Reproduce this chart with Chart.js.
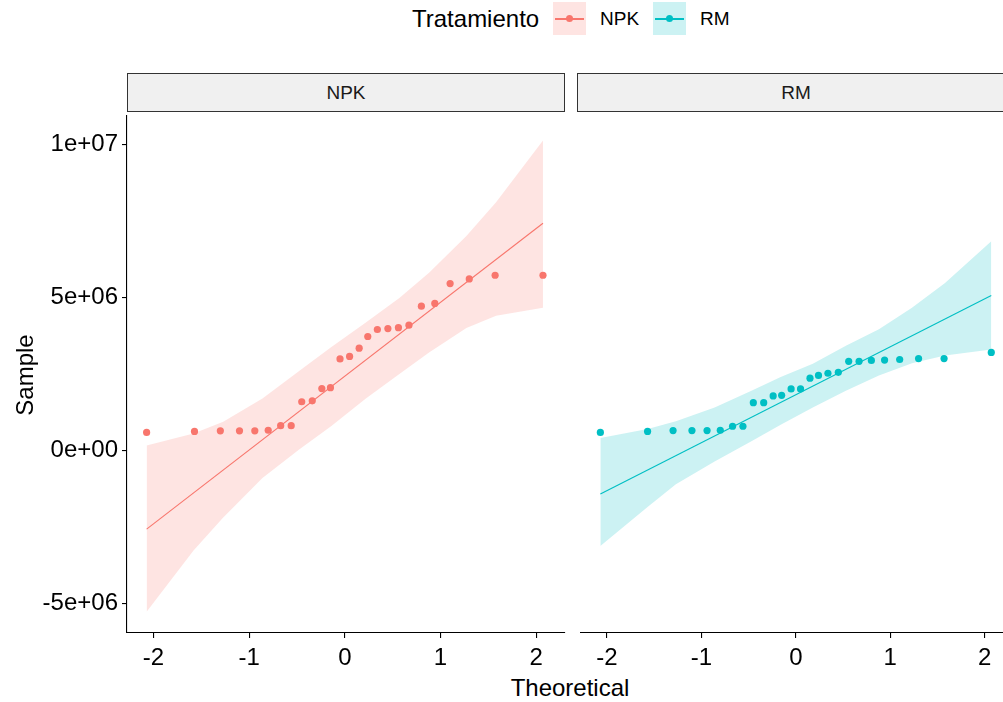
<!DOCTYPE html>
<html>
<head>
<meta charset="utf-8">
<script src="https://cdn.jsdelivr.net/npm/chart.js@4.4.0/dist/chart.umd.min.js"></script>
<style>
  html, body { margin: 0; padding: 0; background: #fff; overflow: hidden; width: 1003px; height: 702px; }
  body { position: relative; font-family: "Liberation Sans", Arial, sans-serif; color: #000; }
  canvas { position: absolute; }
  .strip { position: absolute; top: 73px; height: 37px; width: 436px; background: #F0F0F0; border: 1px solid #333;
           font-size: 19px; color: #1a1a1a; text-align: center; line-height: 37px; }
  .lab { position: absolute; white-space: nowrap; }
  .key { position: absolute; top: 2px; width: 33px; height: 33px; }
  .key .ln { position: absolute; left: 2px; top: 16px; width: 29px; height: 1.5px; }
  .key .pt { position: absolute; left: 13px; top: 13px; width: 7px; height: 7px; border-radius: 50%; }
</style>
</head>
<body>

<div class="lab" style="left:412px; top:6px; font-size:24px; line-height:26px;">Tratamiento</div>
<div class="key" style="left:553px; background:rgba(248,118,109,0.2);"><div class="ln" style="background:#F8766D"></div><div class="pt" style="background:#F8766D"></div></div>
<div class="lab" style="left:600px; top:8px; font-size:19px; line-height:22px;">NPK</div>
<div class="key" style="left:653px; background:rgba(0,191,196,0.2);"><div class="ln" style="background:#00BFC4"></div><div class="pt" style="background:#00BFC4"></div></div>
<div class="lab" style="left:700px; top:8px; font-size:19px; line-height:22px;">RM</div>

<div class="strip" style="left:127px;">NPK</div>
<div class="strip" style="left:577px;">RM</div>

<canvas id="npk" width="570" height="561" style="left:0px; top:112px;"></canvas>
<canvas id="rm" width="440" height="561" style="left:577px; top:112px;"></canvas>

<div class="lab" style="left:470px; width:200px; text-align:center; top:676px; font-size:24px; line-height:24px;">Theoretical</div>
<div class="lab" style="left:-25px; width:100px; text-align:center; top:363px; font-size:24px; line-height:24px; transform:rotate(-90deg);">Sample</div>

<script>
// theoretical quantiles (same for both groups, 26 points each)
const theoretical = [-2.07, -1.57, -1.30, -1.10, -0.94, -0.80, -0.67, -0.56, -0.45, -0.34, -0.24, -0.15, -0.05,
                     0.05, 0.15, 0.24, 0.34, 0.45, 0.56, 0.67, 0.80, 0.94, 1.10, 1.30, 1.57, 2.07];

// sample values, in millions
const npkSample = [0.59, 0.62, 0.64, 0.64, 0.64, 0.66, 0.81, 0.81, 1.59, 1.62, 2.02, 2.05, 2.99,
                   3.07, 3.34, 3.72, 3.95, 3.98, 4.01, 4.09, 4.71, 4.80, 5.45, 5.60, 5.72, 5.72];
const rmSample  = [0.59, 0.62, 0.65, 0.65, 0.65, 0.66, 0.79, 0.79, 1.56, 1.56, 1.78, 1.80, 2.01,
                   2.01, 2.36, 2.45, 2.52, 2.55, 2.91, 2.91, 2.94, 2.95, 2.97, 3.00, 3.00, 3.20];

// reference lines (ends at the outer quantiles)
const refLineX = [-2.07, 2.07];
const npkRefLine = [-2.57, 7.42];
const rmRefLine = [-1.42, 5.06];

// confidence bands
const npkBandX = [-2.07, -1.58, -1.27, -0.86, -0.47, -0.14, 0.22, 0.57, 0.88, 1.27, 1.58, 2.07];
const npkBandLo = [-5.27, -3.27, -2.19, -0.90, 0.05, 0.80, 1.70, 2.50, 3.20, 4.00, 4.40, 4.66];
const npkBandHi = [0.16, 0.55, 0.94, 1.70, 2.61, 3.38, 4.18, 4.98, 5.80, 7.00, 8.10, 10.12];
const rmBandX = [-2.07, -1.57, -1.27, -0.86, -0.47, -0.16, 0.18, 0.53, 0.88, 1.23, 1.58, 2.07];
const rmBandLo = [-3.12, -1.85, -1.10, -0.36, 0.30, 0.84, 1.40, 1.95, 2.45, 2.85, 3.10, 3.30];
const rmBandHi = [0.41, 0.70, 0.95, 1.40, 1.95, 2.40, 2.83, 3.42, 3.96, 4.66, 5.47, 6.83];

const xTicks = [-2, -1, 0, 1, 2];
const yTicks = [-5, 0, 5, 10];
const yTickText = ['-5e+06', '0e+00', '5e+06', '1e+07'];

const pts = (xs, ys) => xs.map((x, i) => ({ x: x, y: ys[i] }));

function panel(id, color, fill, sample, refLine, bx, lo, hi, showY, padRight) {
    new Chart(document.getElementById(id), {
        type: 'scatter',
        data: {
            datasets: [
                { data: pts(theoretical, sample), pointRadius: 3.6, pointBackgroundColor: color,
                  pointBorderWidth: 0, showLine: false, order: 0 },
                { data: pts(refLineX, refLine), showLine: true, borderColor: color, borderWidth: 1.1,
                  pointRadius: 0, order: 1 },
                { data: pts(bx, hi), showLine: true, borderWidth: 0, pointRadius: 0,
                  backgroundColor: fill, fill: '+1', order: 2 },
                { data: pts(bx, lo), showLine: true, borderWidth: 0, pointRadius: 0, fill: false, order: 3 }
            ]
        },
        options: {
            responsive: false,
            animation: false,
            events: [],
            layout: { padding: { top: 0, right: padRight, bottom: 0, left: 0 } },
            plugins: { legend: { display: false }, tooltip: { enabled: false } },
            scales: {
                x: {
                    type: 'linear', min: -2.275, max: 2.30,
                    afterBuildTicks: s => { s.ticks = xTicks.map(v => ({ value: v })); },
                    afterFit: s => { s.height = 40; s.paddingLeft = 0; s.paddingRight = 0; },
                    grid: { display: true, drawOnChartArea: false, drawTicks: true, tickLength: 5, color: '#000', lineWidth: 1.1 },
                    border: { display: true, color: '#000', width: 1.1 },
                    ticks: { color: '#000', padding: 6, maxRotation: 0,
                             font: { family: 'Liberation Sans', size: 24 } }
                },
                y: {
                    type: 'linear', min: -5.96, max: 10.92, display: showY,
                    afterBuildTicks: s => { s.ticks = yTicks.map(v => ({ value: v })); },
                    afterFit: s => { s.width = showY ? 127 : 0; s.paddingTop = 0; s.paddingBottom = 0; },
                    grid: { display: true, drawOnChartArea: false, drawTicks: true, tickLength: 5, color: '#000', lineWidth: 1.1 },
                    border: { display: true, color: '#000', width: 1.1 },
                    ticks: { color: '#000', padding: 4,
                             callback: (v, i) => yTickText[i],
                             font: { family: 'Liberation Sans', size: 24 } }
                }
            }
        }
    });
}

panel('npk', '#F8766D', 'rgba(248,118,109,0.2)', npkSample, npkRefLine, npkBandX, npkBandLo, npkBandHi, true, 5);
panel('rm', '#00BFC4', 'rgba(0,191,196,0.2)', rmSample, rmRefLine, rmBandX, rmBandLo, rmBandHi, false, 2);
</script>
</body>
</html>
